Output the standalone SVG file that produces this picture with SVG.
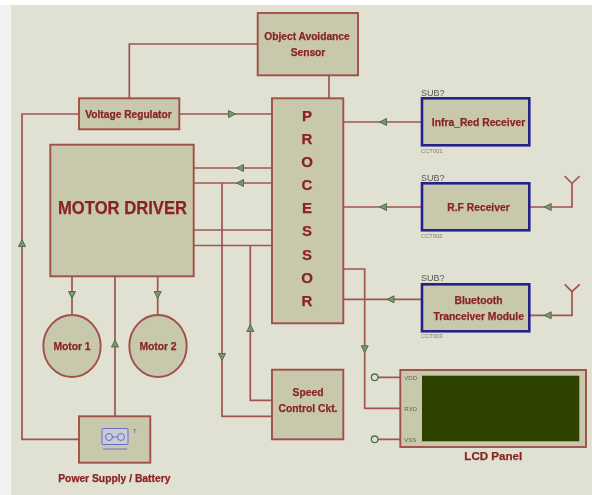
<svg xmlns="http://www.w3.org/2000/svg" width="592" height="495" viewBox="0 0 592 495">
<defs>
<style>
.w{fill:none;stroke:#a0544f;stroke-width:1.7}
.b{fill:#c8c9ac;stroke:#a04f48;stroke-width:1.9}
.s{fill:#c8c9ac;stroke:#23238a;stroke-width:2.6}
.l{font-family:"Liberation Sans",Arial,sans-serif;font-weight:700;fill:#8a2424;stroke:#8a2424;stroke-width:.25;text-anchor:middle}
.a{fill:#7d9470;stroke:#4f7050;stroke-width:1}
.t{font-family:"Liberation Sans",Arial,sans-serif;fill:#55584f;font-size:9px}
.c{font-family:"Liberation Sans",Arial,sans-serif;fill:#7a7d70;font-size:5.8px}
.p{font-family:"Liberation Sans",Arial,sans-serif;fill:#5f6455;font-size:6px}
</style>
<filter id="soft" filterUnits="userSpaceOnUse" x="0" y="0" width="592" height="495"><feGaussianBlur stdDeviation="0.35"/></filter>
<polygon id="ar" class="a" points="-3.500,-3.500 3.500,0 -3.500,3.500"/>
</defs>
<rect width="592" height="495" fill="#fff"/>
<rect x="0" y="5" width="11" height="490" fill="#f2f2f0"/>
<rect x="11" y="5" width="581" height="490" fill="#e0e1d2"/>
<g filter="url(#soft)">
<g id="connectors">
<path class="w" d="M258 44H129.300V98"/>
<path class="w" d="M329 75V98"/>
<path class="w" d="M179 114H272"/>
<path class="w" d="M79 114H22V439.300H79"/>
<path class="w" d="M194 168H272"/>
<path class="w" d="M194 183H272"/>
<path class="w" d="M194 230H272"/>
<path class="w" d="M194 245.500H272"/>
<path class="w" d="M222 183V416.300H272"/>
<path class="w" d="M250.300 245.500V400.300H272"/>
<path class="w" d="M72 276V315"/>
<path class="w" d="M157.700 276V315"/>
<path class="w" d="M115 276V416"/>
<path class="w" d="M343 122H422"/>
<path class="w" d="M343 207H422"/>
<path class="w" d="M343 299.300H422"/>
<path class="w" d="M343 269H364.700V408.300H400"/>
<path class="w" d="M529 207H572V183"/>
<path class="w" d="M529 315.300H572V291.700"/>
<path class="w" d="M572 183.500L564.700 176M572 183.500L579.700 176"/>
<path class="w" d="M572 291.700L564.700 284.300M572 291.700L579.700 284.300"/>
<path class="w" d="M378 377.300H400M378 439.300H400"/>
<use href="#ar" transform="translate(232,114)"/>
<use href="#ar" transform="translate(240,168) rotate(180)"/>
<use href="#ar" transform="translate(240,183) rotate(180)"/>
<use href="#ar" transform="translate(22,243) rotate(-90)"/>
<use href="#ar" transform="translate(72,295) rotate(90)"/>
<use href="#ar" transform="translate(157.700,295) rotate(90)"/>
<use href="#ar" transform="translate(115,343.500) rotate(-90)"/>
<use href="#ar" transform="translate(222,357) rotate(90)"/>
<use href="#ar" transform="translate(250.300,328) rotate(-90)"/>
<use href="#ar" transform="translate(383,122) rotate(180)"/>
<use href="#ar" transform="translate(383,207) rotate(180)"/>
<use href="#ar" transform="translate(390.500,299.300) rotate(180)"/>
<use href="#ar" transform="translate(547.700,207) rotate(180)"/>
<use href="#ar" transform="translate(547.700,315.300) rotate(180)"/>
<use href="#ar" transform="translate(364.700,349.300) rotate(90)"/>
<circle cx="374.700" cy="377.300" r="3.300" fill="none" stroke="#4f7050" stroke-width="1.300"/>
<circle cx="374.700" cy="439.300" r="3.300" fill="none" stroke="#4f7050" stroke-width="1.300"/>
</g>
<g id="sensor"><rect class="b" x="257.700" y="13" width="100.300" height="62.300"/><text class="l" font-size="10.200" x="307" y="40">Object Avoidance</text><text class="l" font-size="10.200" x="308" y="56">Sensor</text></g>
<g id="regulator"><rect class="b" x="79" y="98.300" width="100.300" height="31"/><text class="l" font-size="10.200" x="128.500" y="118">Voltage Regulator</text></g>
<g id="driver"><rect class="b" x="50.300" y="144.700" width="143.400" height="131.600"/><text class="l" font-size="18" textLength="129" lengthAdjust="spacingAndGlyphs" x="122.500" y="214">MOTOR DRIVER</text></g>
<g id="processor"><rect class="b" x="272" y="98.300" width="71.300" height="225"/>
<text class="l" font-size="15" x="307" y="120.500">P</text><text class="l" font-size="15" x="307" y="143.500">R</text><text class="l" font-size="15" x="307" y="166.500">O</text><text class="l" font-size="15" x="307" y="189.500">C</text><text class="l" font-size="15" x="307" y="212.500">E</text><text class="l" font-size="15" x="307" y="235.500">S</text><text class="l" font-size="15" x="307" y="259.500">S</text><text class="l" font-size="15" x="307" y="282.500">O</text><text class="l" font-size="15" x="307" y="305.500">R</text></g>
<g id="ir"><rect class="s" x="422" y="98.300" width="107.300" height="47"/><text class="l" font-size="10.300" x="478.500" y="126">Infra_Red Receiver</text><text class="t" x="421" y="96">SUB?</text><text class="c" x="421" y="152.500">CCT001</text></g>
<g id="rf"><rect class="s" x="422" y="183.300" width="107.300" height="47"/><text class="l" font-size="10.300" x="478.500" y="211">R.F Receiver</text><text class="t" x="421" y="181">SUB?</text><text class="c" x="421" y="237.500">CCT002</text></g>
<g id="bt"><rect class="s" x="422" y="284.300" width="107.300" height="47"/><text class="l" font-size="10.300" x="478.500" y="304">Bluetooth</text><text class="l" font-size="10.300" x="478.700" y="319.500">Tranceiver Module</text><text class="t" x="421" y="281">SUB?</text><text class="c" x="421" y="338">CCT003</text></g>
<g id="m1"><ellipse class="b" cx="72" cy="346" rx="28.700" ry="31"/><text class="l" font-size="10.300" x="72" y="350">Motor 1</text></g>
<g id="m2"><ellipse class="b" cx="158" cy="346" rx="28.700" ry="31"/><text class="l" font-size="10.300" x="158" y="350">Motor 2</text></g>
<g id="speed"><rect class="b" x="272" y="369.700" width="71.300" height="69.600"/><text class="l" font-size="10.300" x="308" y="396">Speed</text><text class="l" font-size="10.300" x="308" y="412">Control Ckt.</text></g>
<g id="battery"><rect class="b" x="79" y="416.300" width="71.300" height="46.400"/>
<rect x="102" y="428.500" width="26" height="16" rx="1" fill="#c8cbd8" stroke="#6a6fc0"/><circle cx="109" cy="437" r="3.500" fill="none" stroke="#6a6fc0"/><circle cx="121" cy="437" r="3.500" fill="none" stroke="#6a6fc0"/><path d="M112 437H118M103 449H127" fill="none" stroke="#6a6fc0"/>
<text class="p" x="133" y="433">T</text></g>
<text id="psu" class="l" font-size="10.300" x="114.300" y="482">Power Supply / Battery</text>
<g id="lcd"><rect class="b" x="400.300" y="370" width="185.700" height="77"/><rect x="422" y="375.700" width="157.300" height="65.600" fill="#2e4304"/>
<text class="p" x="404.300" y="380">VDD</text><text class="p" x="404.300" y="411">RXD</text><text class="p" x="404.300" y="442">VSS</text></g>
<text id="lcd-label" class="l" font-size="11.600" x="493.300" y="459.500">LCD Panel</text>
</g>
</svg>
